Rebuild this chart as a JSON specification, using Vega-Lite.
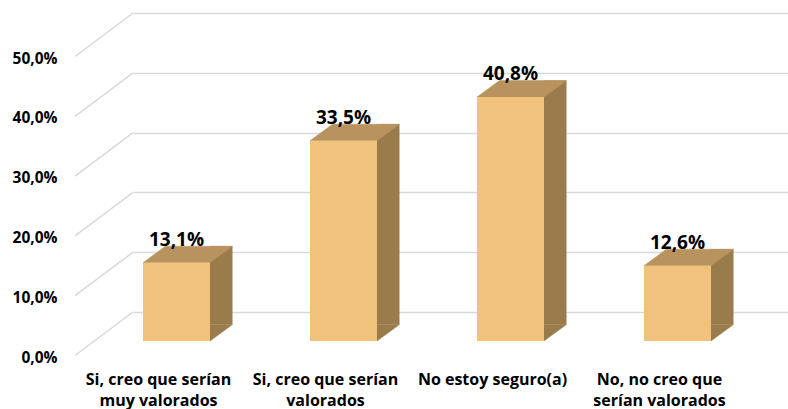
{
  "$schema": "https://vega.github.io/schema/vega-lite/v6.json",
  "width": 655,
  "height": 299,
  "autosize": "none",
  "padding": {"left": 133, "top": 13, "right": 0, "bottom": 97},
  "background": "white",
  "config": {
    "view": {"stroke": null},
    "locale": {"number": {"decimal": ",", "thousands": ".", "grouping": [3], "currency": ["", " €"]}},
    "font": "Open Sans"
  },
  "data": {
    "values": [
      {"cat": "Si, creo que serían muy valorados", "v": 0.131},
      {"cat": "Si, creo que serían valorados", "v": 0.335},
      {"cat": "No estoy seguro(a)", "v": 0.408},
      {"cat": "No, no creo que serían valorados", "v": 0.126}
    ]
  },
  "encoding": {
    "x": {
      "field": "cat",
      "type": "nominal",
      "sort": null,
      "scale": {"paddingInner": 0.5988, "paddingOuter": 0.2605, "align": 0.115},
      "axis": {
        "title": null,
        "labelAngle": 0,
        "domain": false,
        "ticks": false,
        "grid": false,
        "labelFont": "Open Sans",
        "labelFontSize": 16,
        "labelFontWeight": "bold",
        "labelColor": "#000000",
        "labelPadding": 59,
        "labelLineHeight": 21,
        "labelOffset": -18,
        "labelExpr": "datum.label == 'Si, creo que serían muy valorados' ? ['Si, creo que serían', 'muy valorados'] : datum.label == 'Si, creo que serían valorados' ? ['Si, creo que serían', 'valorados'] : datum.label == 'No, no creo que serían valorados' ? ['No, no creo que', 'serían valorados'] : datum.label"
      }
    }
  },
  "layer": [
    {
      "data": {"values": [{"t": 0}, {"t": 0.1}, {"t": 0.2}, {"t": 0.3}, {"t": 0.4}, {"t": 0.5}]},
      "mark": {"type": "point", "shape": "M-2.9,2.175L2.9,-2.175", "size": 400, "filled": false, "stroke": "#D9D9D9", "strokeWidth": 1.5, "opacity": 1, "xOffset": -72.5, "yOffset": 21.75},
      "encoding": {
        "x": {"datum": "Si, creo que serían muy valorados"},
        "y": {"field": "t", "type": "quantitative"}
      }
    },
    {
      "mark": {"type": "bar", "color": "#9A7C4C", "width": 22.5, "xOffset": 44.75, "yOffset": 12.5, "y2Offset": 12.5},
      "encoding": {
        "y": {
          "field": "v",
          "type": "quantitative",
          "scale": {"domain": [0, 0.5], "nice": false, "zero": true},
          "axis": {
            "title": null,
            "values": [0, 0.1, 0.2, 0.3, 0.4, 0.5],
            "format": ".1%",
            "domain": false,
            "ticks": false,
            "grid": true,
            "gridColor": "#D9D9D9",
            "gridWidth": 1.5,
            "labelFont": "Open Sans",
            "labelFontSize": 15.5,
            "labelFontWeight": "bold",
            "labelColor": "#000000",
            "labelPadding": 76,
            "labelOffset": 45
          }
        },
        "y2": {"datum": 0}
      }
    },
    {
      "mark": {"type": "point", "shape": "M0,0L2.25,0L0,1.65Z", "size": 400, "filled": true, "fill": "#9A7C4C", "stroke": "#9A7C4C", "strokeWidth": 0.5, "opacity": 1, "xOffset": 33.5, "yOffset": 12.5},
      "encoding": {
        "y": {"datum": 0}
      }
    },
    {
      "mark": {"type": "point", "shape": "M0,0L6.7,0L8.95,-1.65L2.25,-1.65Z", "size": 400, "filled": true, "fill": "#B8935E", "stroke": "#B8935E", "strokeWidth": 0.5, "opacity": 1, "xOffset": -33.5, "yOffset": 29},
      "encoding": {
        "y": {"field": "v", "type": "quantitative"}
      }
    },
    {
      "mark": {"type": "bar", "color": "#F0C27C", "yOffset": 29, "y2Offset": 29},
      "encoding": {
        "y": {"field": "v", "type": "quantitative"},
        "y2": {"datum": 0}
      }
    },
    {
      "mark": {"type": "text", "font": "Open Sans", "fontSize": 19, "fontWeight": "bold", "color": "#000000", "baseline": "middle", "yOffset": 6},
      "encoding": {
        "y": {"field": "v", "type": "quantitative"},
        "text": {"field": "v", "type": "quantitative", "format": ".1%"}
      }
    }
  ]
}
